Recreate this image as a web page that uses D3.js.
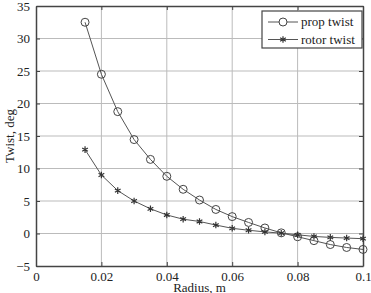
<!DOCTYPE html>
<html>
<head>
<meta charset="utf-8">
<script src="https://cdn.jsdelivr.net/npm/d3@7"></script>
<style>
  body { margin: 0; background: #fff; }
  svg, svg text { font-family: "Liberation Serif", "DejaVu Serif", serif !important; }
</style>
</head>
<body>
<div id="chart"></div>
<script>
const radius = [0.015, 0.02, 0.025, 0.03, 0.035, 0.04, 0.045, 0.05, 0.055, 0.06,
  0.065, 0.07, 0.075, 0.08, 0.085, 0.09, 0.095, 0.1];
const propTwist = [32.5, 24.5, 18.75, 14.45, 11.4, 8.8, 6.8, 5.15, 3.7, 2.6,
  1.7, 0.85, 0.1, -0.5, -1.1, -1.7, -2.15, -2.45];
const rotorTwist = [12.9, 9.0, 6.6, 5.0, 3.8, 2.85, 2.2, 1.85, 1.3, 0.8,
  0.5, 0.25, 0.05, -0.2, -0.45, -0.6, -0.7, -0.8];
const xTicks = [0, 0.02, 0.04, 0.06, 0.08, 0.1];
const yTicks = [-5, 0, 5, 10, 15, 20, 25, 30, 35];
const seriesNames = ['prop twist', 'rotor twist'];

const W = 371, H = 293;
const margin = { top: 6, right: 8, bottom: 27, left: 36 };
const width = W - margin.left - margin.right;
const height = H - margin.top - margin.bottom;

const svg = d3.select('#chart').append('svg')
  .attr('width', W)
  .attr('height', H);

const g = svg.append('g')
  .attr('transform', `translate(${margin.left},${margin.top})`);

const x = d3.scaleLinear().domain([0, 0.1]).range([0, width]);
const y = d3.scaleLinear().domain([-5, 35]).range([height, 0]);

// grid
g.append('g').selectAll('line')
  .data(xTicks.slice(1, -1))
  .enter().append('line')
  .attr('x1', d => x(d)).attr('x2', d => x(d))
  .attr('y1', 0).attr('y2', height)
  .attr('stroke', '#bbb').attr('stroke-width', 1);

g.append('g').selectAll('line')
  .data(yTicks.slice(1, -1))
  .enter().append('line')
  .attr('x1', 0).attr('x2', width)
  .attr('y1', d => y(d)).attr('y2', d => y(d))
  .attr('stroke', '#bbb').attr('stroke-width', 1);

// axes
const fmtX = d => d === 0 ? '0' : d3.format('~g')(d);
const xAxis = g.append('g')
  .attr('transform', `translate(0,${height})`)
  .call(d3.axisBottom(x).tickValues(xTicks).tickFormat(fmtX).tickSizeInner(-4).tickSizeOuter(0).tickPadding(6));
const yAxis = g.append('g')
  .call(d3.axisLeft(y).tickValues(yTicks).tickSizeInner(-4).tickSizeOuter(0).tickPadding(6));
const xTop = g.append('g')
  .call(d3.axisTop(x).tickValues(xTicks).tickFormat('').tickSizeInner(-4).tickSizeOuter(0));
const yRight = g.append('g')
  .attr('transform', `translate(${width},0)`)
  .call(d3.axisRight(y).tickValues(yTicks).tickFormat('').tickSizeInner(-4).tickSizeOuter(0));

[xAxis, yAxis, xTop, yRight].forEach(a => {
  a.attr('font-family', null).attr('font-size', null);
  a.select('.domain').attr('stroke', '#444').attr('stroke-width', 1.5);
  a.selectAll('.tick line').attr('stroke', '#444');
  a.selectAll('text').style('font-size', '13px').attr('fill', '#222');
});

// lines
const line = d3.line()
  .x((d, i) => x(radius[i]))
  .y(d => y(d));

g.append('path')
  .datum(propTwist)
  .attr('fill', 'none')
  .attr('stroke', '#555')
  .attr('stroke-width', 1)
  .attr('d', line);

g.append('path')
  .datum(rotorTwist)
  .attr('fill', 'none')
  .attr('stroke', '#555')
  .attr('stroke-width', 1)
  .attr('d', line);

g.selectAll('.circ')
  .data(propTwist)
  .enter().append('circle')
  .attr('class', 'circ')
  .attr('cx', (d, i) => x(radius[i]))
  .attr('cy', d => y(d))
  .attr('r', 4)
  .attr('fill', 'none')
  .attr('stroke', '#444')
  .attr('stroke-width', 1);

// 6-arm asterisk marker
function starPath(r) {
  let p = '';
  for (let k = 0; k < 3; k++) {
    const a = Math.PI / 2 + k * Math.PI / 3;
    p += `M${r * Math.cos(a)},${-r * Math.sin(a)}L${-r * Math.cos(a)},${r * Math.sin(a)}`;
  }
  return p;
}
g.selectAll('.star')
  .data(rotorTwist)
  .enter().append('path')
  .attr('class', 'star')
  .attr('transform', (d, i) => `translate(${x(radius[i])},${y(d)})`)
  .attr('d', starPath(3.3))
  .attr('stroke', '#333')
  .attr('stroke-width', 1.2)
  .attr('fill', 'none');

// legend
const lg = svg.append('g').attr('transform', 'translate(262,11)');
lg.append('rect')
  .attr('width', 100).attr('height', 37)
  .attr('fill', '#fff')
  .attr('stroke', '#444').attr('stroke-width', 1.2);

seriesNames.forEach((name, i) => {
  const row = lg.append('g').attr('transform', `translate(0,${11 + i * 17.5})`);
  row.append('line')
    .attr('x1', 6).attr('x2', 36)
    .attr('stroke', '#555').attr('stroke-width', 1);
  if (i === 0) {
    row.append('circle').attr('cx', 21).attr('r', 4)
      .attr('fill', '#fff').attr('stroke', '#444');
  } else {
    row.append('path').attr('transform', 'translate(21,0)')
      .attr('d', starPath(3.3)).attr('stroke', '#333').attr('stroke-width', 1.2);
  }
  row.append('text')
    .attr('x', 39).attr('y', 0).attr('dy', '0.33em')
    .style('font-size', '13px').attr('fill', '#222')
    .text(name);
});

// axis titles
svg.append('text')
  .attr('x', margin.left + x(0.05))
  .attr('y', 292)
  .attr('text-anchor', 'middle')
  .style('font-size', '13px').attr('fill', '#222')
  .text('Radius, m');

svg.append('text')
  .attr('transform', `translate(14,${margin.top + height / 2}) rotate(-90)`)
  .attr('text-anchor', 'middle')
  .style('font-size', '13px').attr('fill', '#222')
  .text('Twist, deg');
</script>
</body>
</html>
